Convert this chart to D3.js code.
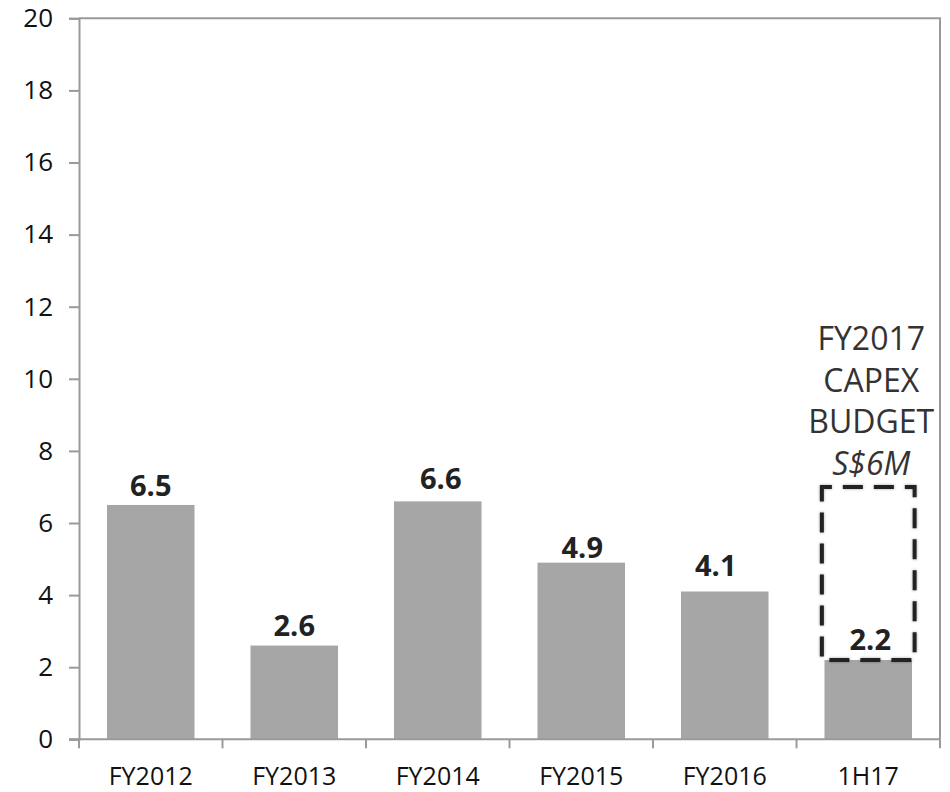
<!DOCTYPE html>
<html>
<head>
<meta charset="utf-8">
<script src="https://cdn.jsdelivr.net/npm/d3@7"></script>
<style>
  html, body { margin: 0; padding: 0; background: #fff; }
  svg { display: block; font-family: "Open Sans", "Noto Sans", sans-serif; }
</style>
</head>
<body>
<svg id="chart" width="950" height="792"></svg>
<script>
// Capital expenditure by period (S$ million)
const categories = ["FY2012", "FY2013", "FY2014", "FY2015", "FY2016", "1H17"];
const capex = [6.5, 2.6, 6.6, 4.9, 4.1, 2.2];
const yTicks = [0, 2, 4, 6, 8, 10, 12, 14, 16, 18, 20];

// FY2017 budget outline drawn over the 1H17 bar
const budgetCategory = "1H17";
const budgetRange = [2.2, 7.0];
const budgetLines = ["FY2017", "CAPEX", "BUDGET"];
const budgetAmount = "S$6M";

// Small per-label nudges [dx, gap above bar] for the value labels
const labelNudge = [[0, 9], [0, 10], [3, 12], [1, 5], [-9, 15], [2, 10]];

const width = 950, height = 792;
const margin = { top: 18.3, right: 10, bottom: 52.7, left: 79 };

const svg = d3.select("#chart");

const x = d3.scaleBand()
  .domain(categories)
  .range([margin.left, width - margin.right])
  .paddingInner(0.39)
  .paddingOuter(0.195);

const y = d3.scaleLinear()
  .domain([0, 20])
  .range([height - margin.bottom, margin.top]);

const frameColor = "#9a9a9a";

const defs = svg.append("defs");
const shadow = defs.append("filter").attr("id", "soft-shadow")
  .attr("x", "-20%").attr("y", "-20%").attr("width", "140%").attr("height", "140%");
shadow.append("feDropShadow")
  .attr("dx", 0).attr("dy", 0).attr("stdDeviation", 1.6)
  .attr("flood-color", "#000").attr("flood-opacity", 0.35);

// Top and right edges of the plot frame
svg.append("path")
  .attr("d", `M${margin.left},${y(20)}H${width - margin.right}V${y(0)}`)
  .attr("fill", "none")
  .attr("stroke", frameColor)
  .attr("stroke-width", 2);

// Bars
svg.append("g").selectAll("rect")
  .data(categories)
  .join("rect")
  .attr("x", d => x(d))
  .attr("width", x.bandwidth())
  .attr("y", (d, i) => y(capex[i]))
  .attr("height", (d, i) => y(0) - y(capex[i]))
  .attr("fill", "#a6a6a6");

// Y axis
const yAxis = svg.append("g")
  .attr("transform", `translate(${margin.left},0)`)
  .call(d3.axisLeft(y).tickValues(yTicks).tickSize(10).tickPadding(16));
yAxis.select(".domain").attr("stroke", frameColor).attr("stroke-width", 2);
yAxis.selectAll(".tick line").attr("stroke", frameColor).attr("stroke-width", 2);
yAxis.selectAll(".tick text")
  .attr("fill", "#111")
  .style("font-size", "26px")
  .style("font-family", "'Open Sans', sans-serif");

// X axis with ticks at the band boundaries
const xAxisG = svg.append("g").attr("transform", `translate(0,${y(0)})`);
xAxisG.append("line")
  .attr("x1", margin.left - 10).attr("x2", width - margin.right)
  .attr("stroke", frameColor).attr("stroke-width", 2);
const step = x.step();
const boundaries = categories.map((d, i) => margin.left + i * step).concat([width - margin.right]);
xAxisG.selectAll("line.tick")
  .data(boundaries)
  .join("line")
  .attr("class", "tick")
  .attr("x1", d => d).attr("x2", d => d)
  .attr("y1", 0).attr("y2", 9)
  .attr("stroke", frameColor).attr("stroke-width", 2);
xAxisG.selectAll("text")
  .data(categories)
  .join("text")
  .attr("x", d => x(d) + x.bandwidth() / 2)
  .attr("y", 46)
  .attr("text-anchor", "middle")
  .attr("fill", "#111")
  .style("font-size", "25px")
  .text(d => d);

// Value labels
svg.append("g").selectAll("text")
  .data(categories)
  .join("text")
  .attr("x", (d, i) => x(d) + x.bandwidth() / 2 + labelNudge[i][0])
  .attr("y", (d, i) => y(capex[i]) - labelNudge[i][1])
  .attr("text-anchor", "middle")
  .attr("fill", "#222")
  .style("font-size", "29px")
  .style("font-weight", "bold")
  .text((d, i) => capex[i].toFixed(1));

// Budget outline
const bx = x(budgetCategory);
svg.append("rect")
  .attr("x", bx - 2.6)
  .attr("width", x.bandwidth() + 5.2)
  .attr("y", y(budgetRange[1]))
  .attr("height", y(budgetRange[0]) - y(budgetRange[1]))
  .attr("fill", "none")
  .attr("stroke", "#222")
  .attr("stroke-width", 4)
  .attr("stroke-dasharray", "20,11")
  .attr("stroke-dashoffset", 10)
  .attr("filter", "url(#soft-shadow)");

// Budget annotation
const annX = bx + x.bandwidth() / 2 + 3;
const annBase = y(budgetRange[1]) - 137;
const ann = svg.append("text")
  .attr("text-anchor", "middle")
  .attr("fill", "#333")
  .style("font-size", "32px");
budgetLines.forEach((t, i) => {
  ann.append("tspan").attr("x", annX).attr("y", annBase + i * 41.7).text(t);
});
ann.append("tspan")
  .attr("x", annX)
  .attr("y", annBase + budgetLines.length * 41.7)
  .style("font-style", "italic")
  .text(budgetAmount);
</script>
</body>
</html>
